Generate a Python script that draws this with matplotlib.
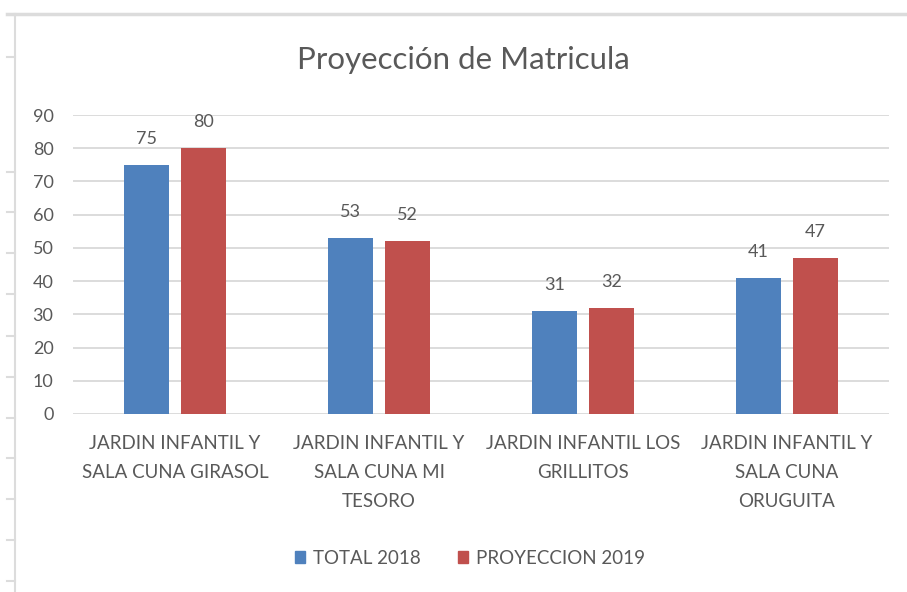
import matplotlib.pyplot as plt
import numpy as np
from matplotlib.lines import Line2D
from matplotlib.patches import Patch

categories = [
    "JARDIN INFANTIL Y\nSALA CUNA GIRASOL",
    "JARDIN INFANTIL Y\nSALA CUNA MI\nTESORO",
    "JARDIN INFANTIL LOS\nGRILLITOS",
    "JARDIN INFANTIL Y\nSALA CUNA\nORUGUITA",
]
total_2018 = [75, 53, 31, 41]
proy_2019 = [80, 52, 32, 47]
series_names = ["TOTAL 2018", "PROYECCION 2019"]
yticks = list(range(0, 100, 10))

blue = "#4f81bd"
red = "#c0504d"
txt = "#595959"
grid = "#d9d9d9"

plt.rcParams["font.family"] = ["Lato", "DejaVu Sans"]

W, H = 907, 592
fig = plt.figure(figsize=(W / 100, H / 100), dpi=100)

# plot area in pixel terms
left, right, top, bottom = 73, 889, 115, 414
ax = fig.add_axes([left / W, 1 - bottom / H, (right - left) / W, (bottom - top) / H])

x = np.arange(len(categories))
bw = 0.22
off = 0.14
b1 = ax.bar(x - off, total_2018, bw, color=blue, zorder=3)
b2 = ax.bar(x + off, proy_2019, bw, color=red, zorder=3)

for bars in (b1, b2):
    for r in bars:
        ax.annotate(f"{r.get_height():.0f}", (r.get_x() + r.get_width() / 2, r.get_height()),
                    xytext=(0, 13), textcoords="offset points", ha="center", va="bottom",
                    fontsize=13, color=txt)

ax.set_xlim(-0.5, len(categories) - 0.5)
ax.set_ylim(0, 90)
ax.set_yticks(yticks)
ax.yaxis.grid(True, color=grid, lw=1.3, zorder=0)
for s in ax.spines.values():
    s.set_visible(False)
ax.tick_params(axis="both", length=0, labelcolor=txt)
ax.tick_params(axis="y", pad=14, labelsize=13)
ax.set_xticks(x)
ax.set_xticklabels(categories, linespacing=1.85, fontsize=13.5)
ax.tick_params(axis="x", pad=15)

fig.text(463 / W, 1 - 60 / H, "Proyección de Matricula", ha="center", va="center",
         fontsize=22.5, color=txt)

handles = [Patch(color=blue, label=series_names[0]), Patch(color=red, label=series_names[1])]
fig.legend(handles=handles, loc="center", bbox_to_anchor=(470 / W, 1 - 558 / H), ncol=2,
           frameon=False, fontsize=13.5, labelcolor=txt, handlelength=0.55, handleheight=0.55,
           handletextpad=0.4, columnspacing=2.0)

# window border decoration
fig.add_artist(Line2D([7 / W, 1], [1 - 14 / H] * 2, color="#dcdcdc", lw=2.5))
fig.add_artist(Line2D([15 / W] * 2, [0, 1 - 14 / H], color="#dcdcdc", lw=1.5))
for yy in [57, 172, 212, 253, 294, 336, 377, 418, 458, 499, 540, 581]:
    fig.add_artist(Line2D([7 / W, 15 / W], [1 - yy / H] * 2, color="#dcdcdc", lw=1.5))

fig.savefig("out.png", dpi=100)
